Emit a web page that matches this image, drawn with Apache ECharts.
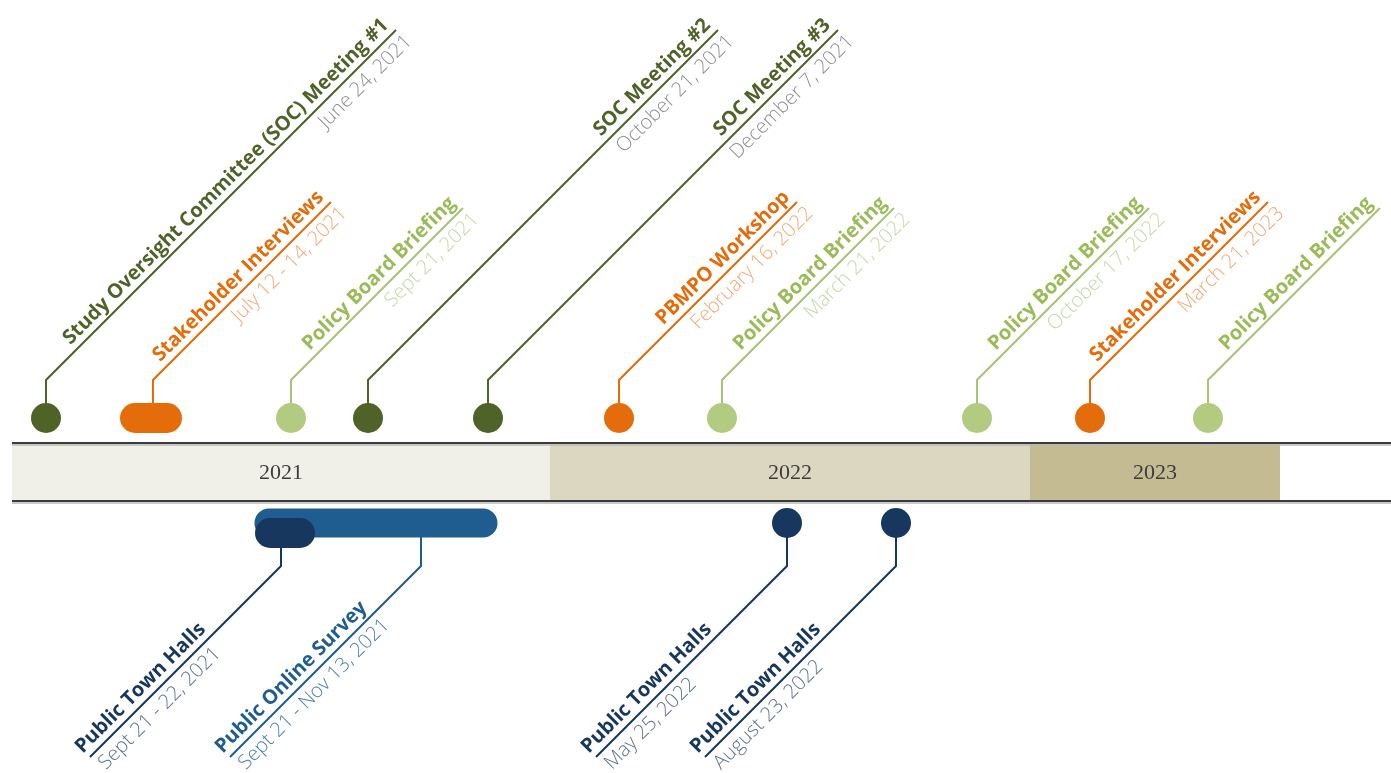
<!DOCTYPE html>
<html>
<head>
<meta charset="utf-8">
<script src="https://cdn.jsdelivr.net/npm/echarts@6/dist/echarts.min.js"></script>
<style>
html, body { margin: 0; padding: 0; background: #fff; }
#main { width: 1391px; height: 773px; }
</style>
</head>
<body>
<div id="main"></div>
<script>
// year bands (timeline position units)
var years = ['2021', '2022', '2023'];
var yearFrom = [12, 550, 1030];
var yearTo = [550, 1030, 1280];

// events above the band
var topTitles = ['Study Oversight Committee (SOC) Meeting #1', 'Stakeholder Interviews', 'Policy Board Briefing',
  'SOC Meeting #2', 'SOC Meeting #3', 'PBMPO Workshop', 'Policy Board Briefing', 'Policy Board Briefing',
  'Stakeholder Interviews', 'Policy Board Briefing'];
var topDates = ['June 24, 2021', 'July 12 - 14, 2021', 'Sept 21, 2021', 'October 21, 2021', 'December 7, 2021',
  'February 16, 2022', 'March 21, 2022', 'October 17, 2022', 'March 21, 2023', ''];
var topKinds = ['soc', 'stake', 'board', 'soc', 'soc', 'stake', 'board', 'board', 'stake', 'board'];
var topPos = [46, 153, 291, 368, 488, 619, 722, 977, 1090, 1208];
var topFrom = [46, 135, 291, 368, 488, 619, 722, 977, 1090, 1208];
var topTo = [46, 167, 291, 368, 488, 619, 722, 977, 1090, 1208];

// events below the band
var bottomTitles = ['Public Online Survey', 'Public Town Halls', 'Public Town Halls', 'Public Town Halls'];
var bottomDates = ['Sept 21 - Nov 13, 2021', 'Sept 21 - 22, 2021', 'May 25, 2022', 'August 23, 2022'];
var bottomKinds = ['survey', 'townhall', 'townhall', 'townhall'];
var bottomPos = [421, 281, 787, 896];
var bottomFrom = [269, 270, 787, 896];
var bottomTo = [483, 300, 787, 896];

// layout
var BAND_TOP = 443, BAND_BOTTOM = 501;
var DOT_TOP = 418, BEND_TOP = 380;
var DOT_BOTTOM = 523, BEND_BOTTOM = 566, DROP = 191;
var R = 15;
var TITLE_FONT = 'bold 20px "Open Sans", sans-serif';
var DATE_FONT = '300 20px "Open Sans", sans-serif';

var kindStyle = {
  soc:      { dot: '#4f6228', title: '#4f6228', date: '#8e8e8e', line: '#4f6228', tip: 30 },
  stake:    { dot: '#e46c0a', title: '#e46c0a', date: '#f3a872', line: '#e46c0a', tip: 202 },
  board:    { dot: '#b3cb81', title: '#9bbb59', date: '#c7d6aa', line: '#a8c27a', tip: 208 },
  townhall: { dot: '#17375e', title: '#17375e', date: '#5d7190', line: '#17375e' },
  survey:   { dot: '#1f5c8f', title: '#1f5c8f', date: '#4b7fb0', line: '#1f5c8f' }
};
var bandColors = ['#f1f0e8', '#dcd7c0', '#c4bb93'];

var chart = echarts.init(document.getElementById('main'));

function renderYear(params, api) {
  var i = params.dataIndex;
  var a = api.coord([api.value(0), BAND_TOP]);
  var b = api.coord([api.value(1), BAND_BOTTOM]);
  return {
    type: 'group',
    children: [{
      type: 'rect',
      shape: { x: a[0], y: a[1], width: b[0] - a[0], height: b[1] - a[1] },
      style: { fill: bandColors[i] }
    }, {
      type: 'text',
      x: (a[0] + b[0]) / 2, y: (a[1] + b[1]) / 2 + 1,
      style: { text: years[i], align: 'center', verticalAlign: 'middle',
        font: '22px "Liberation Serif", "DejaVu Serif", serif', fill: '#3c3c3c' }
    }]
  };
}

function renderRule(params, api) {
  var y = api.value(2);
  var a = api.coord([api.value(0), y]);
  var b = api.coord([api.value(1), y]);
  return {
    type: 'group',
    children: [{
      type: 'line', shape: { x1: a[0], y1: a[1] + 2, x2: b[0], y2: b[1] + 2 },
      style: { stroke: '#b8b8b8', lineWidth: 1.5 }
    }, {
      type: 'line', shape: { x1: a[0], y1: a[1], x2: b[0], y2: b[1] },
      style: { stroke: '#3a3a3a', lineWidth: 2.2 }
    }]
  };
}

function renderTop(params, api) {
  var i = params.dataIndex;
  var st = kindStyle[topKinds[i]];
  var a = api.coord([api.value(0), DOT_TOP]);
  var b = api.coord([api.value(1), DOT_TOP]);
  var p = api.coord([api.value(2), DOT_TOP]);
  var bend = api.coord([api.value(2), BEND_TOP]);
  var tip = api.coord([api.value(2), st.tip]);
  var end = [bend[0] + (bend[1] - tip[1]), tip[1]];
  var rot = Math.PI / 4;
  return {
    type: 'group',
    children: [{
      type: 'polyline',
      shape: { points: [[p[0], p[1]], bend, end] },
      style: { stroke: st.line, lineWidth: 2, fill: null }
    }, {
      type: 'rect',
      shape: { x: a[0] - R, y: a[1] - R, width: b[0] - a[0] + 2 * R, height: 2 * R, r: R },
      style: { fill: st.dot }
    }, {
      type: 'text', x: end[0], y: end[1], rotation: rot,
      style: { text: topTitles[i], x: -2, y: -3, align: 'right', verticalAlign: 'bottom',
        font: TITLE_FONT, fill: st.title }
    }, {
      type: 'text', x: end[0], y: end[1], rotation: rot,
      style: { text: topDates[i], x: 3, y: 5, align: 'right', verticalAlign: 'top',
        font: DATE_FONT, fill: st.date }
    }]
  };
}

function renderBottom(params, api) {
  var i = params.dataIndex;
  var st = kindStyle[bottomKinds[i]];
  var isRange = api.value(1) - api.value(0) > 40;
  var cy = DOT_BOTTOM + (bottomKinds[i] === 'townhall' && api.value(1) !== api.value(0) ? 10 : 0);
  var h = isRange ? 14.5 : R;
  var a = api.coord([api.value(0), cy]);
  var b = api.coord([api.value(1), cy]);
  var p = api.coord([api.value(2), cy]);
  var bend = api.coord([api.value(2), BEND_BOTTOM]);
  var end = [bend[0] - DROP, bend[1] + DROP];
  var rot = Math.PI / 4;
  return {
    type: 'group',
    children: [{
      type: 'polyline',
      shape: { points: [[p[0], p[1]], bend, end] },
      style: { stroke: st.line, lineWidth: 2, fill: null }
    }, {
      type: 'rect',
      shape: { x: a[0] - h, y: a[1] - h, width: b[0] - a[0] + 2 * h, height: 2 * h, r: h },
      style: { fill: st.dot }
    }, {
      type: 'text', x: end[0], y: end[1], rotation: rot,
      style: { text: bottomTitles[i], x: -3, y: -3, align: 'left', verticalAlign: 'bottom',
        font: TITLE_FONT, fill: st.title }
    }, {
      type: 'text', x: end[0], y: end[1], rotation: rot,
      style: { text: bottomDates[i], x: 2, y: 5, align: 'left', verticalAlign: 'top',
        font: DATE_FONT, fill: st.date }
    }]
  };
}

var option = {
  animation: false,
  backgroundColor: '#fff',
  grid: { left: 0, right: 0, top: 0, bottom: 0 },
  xAxis: { type: 'value', min: 0, max: 1391, show: false },
  yAxis: { type: 'value', min: 0, max: 773, inverse: true, show: false },
  series: [{
    type: 'custom',
    renderItem: renderYear,
    data: years.map(function (y, i) { return [yearFrom[i], yearTo[i]]; }),
    z: 1
  }, {
    type: 'custom',
    renderItem: renderRule,
    data: [[12, 1391, BAND_TOP], [12, 1391, BAND_BOTTOM]],
    z: 2
  }, {
    type: 'custom',
    renderItem: renderTop,
    data: topTitles.map(function (t, i) { return [topFrom[i], topTo[i], topPos[i]]; }),
    z: 3
  }, {
    type: 'custom',
    renderItem: renderBottom,
    data: bottomTitles.map(function (t, i) { return [bottomFrom[i], bottomTo[i], bottomPos[i]]; }),
    z: 3
  }]
};

chart.setOption(option);
</script>
</body>
</html>
